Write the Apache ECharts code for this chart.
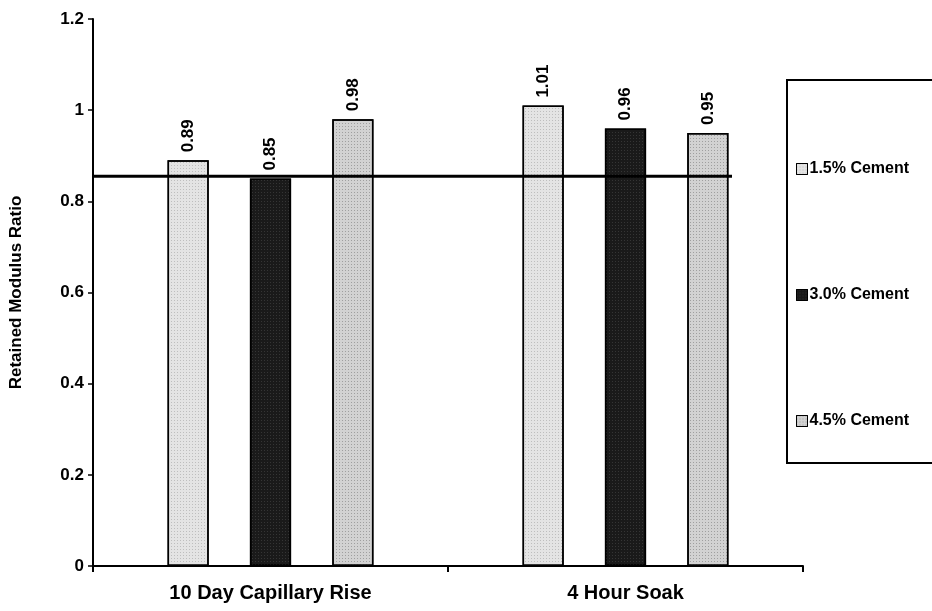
<!DOCTYPE html>
<html>
<head>
<meta charset="utf-8">
<script src="https://cdn.jsdelivr.net/npm/echarts@6/dist/echarts.min.js"></script>
<style>
html,body{margin:0;padding:0;background:#fff;}
#chart{width:932px;height:611px;}
</style>
</head>
<body>
<div id="chart"></div>
<script>
var categories = ['10 Day Capillary Rise', '4 Hour Soak'];
var seriesNames = ['1.5% Cement', '3.0% Cement', '4.5% Cement'];
var cement15 = [0.89, 1.01];
var cement30 = [0.85, 0.96];
var cement45 = [0.98, 0.95];
var refValue = 0.855;
var refSpan = [0, 1.8];

var chart = echarts.init(document.getElementById('chart'));
var FONT = 'Liberation Sans, Arial, sans-serif';

function barSeries(name, data, fill, decalColor, decalSize) {
  return {
    name: name,
    type: 'bar',
    data: data,
    barGap: '100%',
    barCategoryGap: '42%',
    itemStyle: {
      color: fill,
      borderColor: '#000',
      borderWidth: 1.5,
      decal: {
        symbol: 'rect',
        symbolSize: decalSize,
        color: decalColor,
        dashArrayX: [1, 2],
        dashArrayY: [1, 2],
        rotation: 0
      }
    },
    label: {
      show: true,
      position: 'top',
      rotate: 90,
      align: 'left',
      verticalAlign: 'middle',
      distance: 8,
      fontFamily: FONT,
      fontWeight: 'bold',
      fontSize: 17,
      color: '#000',
      formatter: function (p) { return p.value.toFixed(2); }
    }
  };
}

chart.setOption({
  animation: false,
  backgroundColor: '#fff',
  grid: { left: 92, right: 129, top: 19, bottom: 45, containLabel: false },
  legend: {
    orient: 'vertical',
    left: 787,
    top: 80,
    borderColor: '#000',
    borderWidth: 2,
    padding: [81, 40, 34, 9],
    itemGap: 110,
    itemWidth: 11,
    itemHeight: 11,
    icon: 'rect',
    itemStyle: { borderColor: '#000', borderWidth: 1 },
    textStyle: { fontFamily: FONT, fontWeight: 'bold', fontSize: 16, color: '#000', padding: [0, 0, 0, -3] },
    data: seriesNames
  },
  xAxis: [{
    type: 'category',
    data: categories,
    axisLine: { lineStyle: { color: '#000', width: 2 } },
    axisTick: { show: true, length: 6, lineStyle: { color: '#000', width: 2 } },
    axisLabel: { fontFamily: FONT, fontWeight: 'bold', fontSize: 20, color: '#000', margin: 17 }
  }, {
    type: 'value',
    min: 0,
    max: 2,
    show: false
  }],
  yAxis: {
    type: 'value',
    min: 0,
    max: 1.2,
    interval: 0.2,
    name: 'Retained Modulus Ratio',
    nameLocation: 'middle',
    nameGap: 68,
    nameTextStyle: { fontFamily: FONT, fontWeight: 'bold', fontSize: 17, color: '#000' },
    axisLine: { show: true, lineStyle: { color: '#000', width: 2 } },
    axisTick: { show: true, length: 5, lineStyle: { color: '#000', width: 1.5 } },
    splitLine: { show: false },
    axisLabel: {
      fontFamily: FONT, fontWeight: 'bold', fontSize: 17, color: '#000', margin: 9,
      formatter: function (v) { return String(Math.round(v * 10) / 10); }
    }
  },
  series: [
    barSeries(seriesNames[0], cement15, '#e4e4e4', '#666', 0.6),
    barSeries(seriesNames[1], cement30, '#1a1a1a', '#888', 0.5),
    barSeries(seriesNames[2], cement45, '#d2d2d2', '#444', 0.7),
    {
      type: 'line',
      xAxisIndex: 1,
      data: [[refSpan[0], refValue], [refSpan[1], refValue]],
      symbol: 'none',
      lineStyle: { color: '#000', width: 3 },
      z: 5,
      silent: true
    }
  ]
});
</script>
</body>
</html>
